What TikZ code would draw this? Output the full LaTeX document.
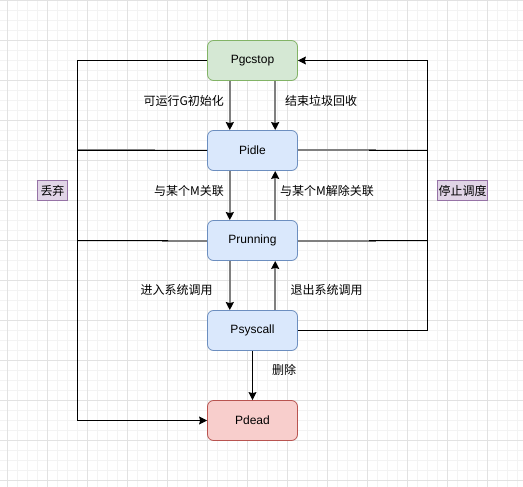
\documentclass[tikz,border=0pt]{standalone}
\usepackage{fontspec}
\setmainfont{Liberation Sans}
\newfontfamily\cjk{Noto Sans CJK SC}
\usetikzlibrary{arrows.meta,calc}
\definecolor{gfill}{HTML}{D5E8D4}\definecolor{gdraw}{HTML}{82B366}
\definecolor{bfill}{HTML}{DAE8FC}\definecolor{bdraw}{HTML}{6C8EBF}
\definecolor{rfill}{HTML}{F8CECC}\definecolor{rdraw}{HTML}{B85450}
\definecolor{pfill}{HTML}{E1D5E7}\definecolor{pdraw}{HTML}{9673A6}
\definecolor{minorgrid}{HTML}{F3F3F3}\definecolor{majorgrid}{HTML}{E2E2E2}
\definecolor{arrgray}{HTML}{808080}
\tikzset{
  state/.style={draw, rounded corners=6pt, minimum width=90pt, minimum height=40pt, line width=0.8pt, inner sep=0pt, font=\fontsize{12}{14}\selectfont},
  gstate/.style={state, fill=gfill, draw=gdraw},
  bstate/.style={state, fill=bfill, draw=bdraw},
  rstate/.style={state, fill=rfill, draw=rdraw},
  tag/.style={draw=pdraw, fill=pfill, line width=0.8pt, minimum height=20pt, inner sep=0pt, font=\cjk\fontsize{12}{14}\selectfont},
  lbl/.style={inner sep=0pt, font=\cjk\fontsize{12}{14}\selectfont},
  grayarrow/.style={draw=arrgray, line width=2pt, -{Stealth[black, length=8pt, width=8pt, inset=1pt]}},
  blackarrow/.style={draw=black, line width=1pt, -{Stealth[black, length=8pt, width=8pt, inset=1pt]}},
  blackline/.style={draw=black, line width=1pt},
  grayline/.style={draw=arrgray, line width=2pt},
}
\begin{document}
\begin{tikzpicture}[x=1pt,y=-1pt]
\useasboundingbox (0,0) rectangle (523,487);
\fill[white] (0,0) rectangle (523,487);
% grid
\foreach \i in {0,...,52} {\draw[minorgrid, line width=0.6pt] (7.5+10*\i,0) -- (7.5+10*\i,487);}
\foreach \i in {0,...,48} {\draw[minorgrid, line width=0.6pt] (0,0.5+10*\i) -- (523,0.5+10*\i);}
\foreach \i in {0,...,13} {\draw[majorgrid, line width=0.8pt] (7.5+40*\i,0) -- (7.5+40*\i,487);}
\foreach \i in {0,...,12} {\draw[majorgrid, line width=0.8pt] (0,0.5+40*\i) -- (523,0.5+40*\i);}

% nodes
\node[gstate] (gc) at (252.5,60.5) {Pgcstop};
\node[bstate] (idle) at (252.5,150.5) {Pidle};
\node[bstate] (run) at (252.5,240.5) {Prunning};
\node[bstate] (sys) at (252.5,330.5) {Psyscall};
\node[rstate] (dead) at (252.5,420.5) {Pdead};
\coordinate (L) at (77.5,60.5);
\coordinate (R) at (427.5,330.5);

% side lines
\draw[blackline] ($(idle.west)!0.55!(idle.west -| L)$) -- (idle.west);
\draw[grayline] (idle.west -| L) -- ($(idle.west -| L)!0.6!(idle.west)$);
\draw[blackline] (idle.west -| L) -- ($(idle.west -| L)!0.6!(idle.west)$);
\draw[grayline] (idle.east) -- ($(idle.east)!0.6!(idle.east -| R)$);
\draw[blackline] ($(idle.east)!0.55!(idle.east -| R)$) -- (idle.east -| R);
\draw[grayline] (run.west) -- ($(run.west)!0.35!(run.west -| L)$);
\draw[blackline] ($(run.west)!0.3!(run.west -| L)$) -- (run.west -| L);
\draw[grayline] (run.east) -- ($(run.east)!0.6!(run.east -| R)$);
\draw[blackline] ($(run.east)!0.55!(run.east -| R)$) -- (run.east -| R);

\draw[blackarrow] (gc.west) -- (L) |- (dead.west);
\draw[blackarrow] (sys.east) -- (R) |- (gc.east);

% vertical arrows
\draw[grayarrow] ($(gc.south west)!0.25!(gc.south east)$) -- ($(idle.north west)!0.25!(idle.north east)$);
\draw[grayarrow] ($(gc.south west)!0.75!(gc.south east)$) -- ($(idle.north west)!0.75!(idle.north east)$);
\draw[grayarrow] ($(idle.south west)!0.25!(idle.south east)$) -- ($(run.north west)!0.25!(run.north east)$);
\draw[grayarrow] ($(run.north west)!0.75!(run.north east)$) -- ($(idle.south west)!0.75!(idle.south east)$);
\draw[grayarrow] ($(run.south west)!0.25!(run.south east)$) -- ($(sys.north west)!0.25!(sys.north east)$);
\draw[grayarrow] ($(sys.north west)!0.75!(sys.north east)$) -- ($(run.south west)!0.75!(run.south east)$);
\draw[blackarrow] (sys.south) -- (dead.north);

% labels
\node[lbl, anchor=east] (l1) at (224,100.5) {可运行G初始化};
\node[lbl, anchor=west] (l2) at (285,100.5) {结束垃圾回收};
\node[lbl, anchor=east] (l3) at (224,190.5) {与某个M关联};
\node[lbl, anchor=west] (l4) at (280,190.5) {与某个M解除关联};
\node[lbl] (l5) at (176.5,289.5) {进入系统调用};
\node[lbl] (l6) at (326.5,289.5) {退出系统调用};
\node[lbl] (l7) at (284,369.5) {删除};
\node[tag, minimum width=30pt] (t1) at (52.5,190.5) {丢弃};
\node[tag, minimum width=50pt] (t2) at (462.5,190.5) {停止调度};
\end{tikzpicture}
\end{document}
